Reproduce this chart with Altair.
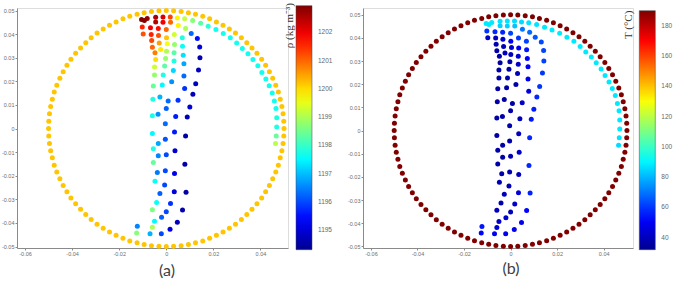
import altair as alt
import pandas as pd

# ---------------- data ----------------
# wall particles (ring of radius 0.05)
wall_x = [0.0500, 0.0499, 0.0496, 0.0491, 0.0484, 0.0476, 0.0465, 0.0452, 0.0438, 0.0422, 0.0405, 0.0385, 0.0364,
          0.0342, 0.0319, 0.0294, 0.0268, 0.0241, 0.0213, 0.0184, 0.0155, 0.0124, 0.0094, 0.0063, 0.0031,
          0.0000, -0.0031, -0.0063, -0.0094, -0.0124, -0.0155, -0.0184, -0.0213, -0.0241, -0.0268, -0.0294, -0.0319,
          -0.0342, -0.0364, -0.0385, -0.0405, -0.0422, -0.0438, -0.0452, -0.0465, -0.0476, -0.0484, -0.0491, -0.0496, -0.0499,
          -0.0500, -0.0499, -0.0496, -0.0491, -0.0484, -0.0476, -0.0465, -0.0452, -0.0438, -0.0422, -0.0405, -0.0385, -0.0364,
          -0.0342, -0.0319, -0.0294, -0.0268, -0.0241, -0.0213, -0.0184, -0.0155, -0.0124, -0.0094, -0.0063, -0.0031,
          0.0000, 0.0031, 0.0063, 0.0094, 0.0124, 0.0155, 0.0184, 0.0213, 0.0241, 0.0268, 0.0294, 0.0319,
          0.0342, 0.0364, 0.0385, 0.0405, 0.0422, 0.0438, 0.0452, 0.0465, 0.0476, 0.0484, 0.0491, 0.0496, 0.0499]
wall_y = [0.0000, 0.0031, 0.0063, 0.0094, 0.0124, 0.0155, 0.0184, 0.0213, 0.0241, 0.0268, 0.0294, 0.0319, 0.0342,
          0.0364, 0.0385, 0.0405, 0.0422, 0.0438, 0.0452, 0.0465, 0.0476, 0.0484, 0.0491, 0.0496, 0.0499,
          0.0500, 0.0499, 0.0496, 0.0491, 0.0484, 0.0476, 0.0465, 0.0452, 0.0438, 0.0422, 0.0405, 0.0385, 0.0364,
          0.0342, 0.0319, 0.0294, 0.0268, 0.0241, 0.0213, 0.0184, 0.0155, 0.0124, 0.0094, 0.0063, 0.0031,
          0.0000, -0.0031, -0.0063, -0.0094, -0.0124, -0.0155, -0.0184, -0.0213, -0.0241, -0.0268, -0.0294, -0.0319, -0.0342,
          -0.0364, -0.0385, -0.0405, -0.0422, -0.0438, -0.0452, -0.0465, -0.0476, -0.0484, -0.0491, -0.0496, -0.0499,
          -0.0500, -0.0499, -0.0496, -0.0491, -0.0484, -0.0476, -0.0465, -0.0452, -0.0438, -0.0422, -0.0405, -0.0385, -0.0364,
          -0.0342, -0.0319, -0.0294, -0.0268, -0.0241, -0.0213, -0.0184, -0.0155, -0.0124, -0.0094, -0.0063, -0.0031]
wall_rho = 1200.2   # kg m^-3
wall_T = 190.0      # deg C

# fluid particles
inner_x = [-0.0105, -0.0093, -0.0081, -0.0045, -0.0045, -0.0014, -0.0014, 0.0017, 0.0018,
           -0.0102, -0.0067, -0.0034, 0.0000,
           -0.0098, -0.0064, -0.0033, 0.0001,
           -0.0062, -0.0030, -0.0059, -0.0024, -0.0048, -0.0045, -0.0050, -0.0050, -0.0055, -0.0057,
           -0.0059, -0.0059, -0.0055, -0.0055, -0.0048, -0.0041, -0.0059, -0.0050, -0.0059,
           -0.0123, -0.0126, -0.0069, -0.0021,
           0.0047, 0.0078, 0.0112, 0.0146, 0.0178, 0.0211, 0.0242, 0.0272, 0.0299, 0.0323, 0.0347, 0.0368,
           0.0389, 0.0406, 0.0423, 0.0437, 0.0450, 0.0459, 0.0466, 0.0469, 0.0469, 0.0467, 0.0464,
           0.0051, 0.0082, 0.0106, 0.0132, 0.0142, 0.0143, 0.0137, 0.0125, 0.0113, 0.0100, 0.0089, 0.0082,
           0.0079, 0.0084, 0.0069, 0.0047,
           0.0034, 0.0068, 0.0004, 0.0035, 0.0069, 0.0001, 0.0033, 0.0072, -0.0003, 0.0033, 0.0075, -0.0007,
           0.0030, 0.0075, -0.0013, 0.0023, 0.0078, -0.0017, -0.0027, 0.0008, 0.0050, 0.0000, 0.0040, -0.0035,
           -0.0004, 0.0035, -0.0004, -0.0034, 0.0037, 0.0000, -0.0034, -0.0004, -0.0038, 0.0035, -0.0007,
           -0.0027, 0.0034, 0.0018, 0.0000, -0.0020, 0.0016]
inner_y = [0.0462, 0.0458, 0.0466, 0.0472, 0.0452, 0.0473, 0.0451, 0.0473, 0.0451,
           0.0430, 0.0427, 0.0424, 0.0420,
           0.0401, 0.0399, 0.0394, 0.0385,
           0.0373, 0.0363, 0.0345, 0.0335, 0.0321, 0.0293, 0.0261, 0.0227, 0.0180, 0.0124,
           0.0054, -0.0021, -0.0085, -0.0144, -0.0223, -0.0313, -0.0344, -0.0393, -0.0418,
           -0.0414, -0.0442, -0.0446, -0.0446,
           0.0469, 0.0465, 0.0458, 0.0446, 0.0434, 0.0420, 0.0403, 0.0385, 0.0363, 0.0339, 0.0317, 0.0293,
           0.0266, 0.0238, 0.0210, 0.0182, 0.0151, 0.0117, 0.0085, 0.0046, 0.0007, -0.0031, -0.0063,
           0.0437, 0.0424, 0.0403, 0.0382, 0.0346, 0.0300, 0.0248, 0.0190, 0.0145, 0.0092, 0.0049, -0.0031,
           -0.0151, -0.0270, -0.0345, -0.0397,
           0.0399, 0.0385, 0.0359, 0.0356, 0.0349, 0.0328, 0.0321, 0.0311, 0.0297, 0.0286, 0.0275, 0.0265,
           0.0246, 0.0223, 0.0227, 0.0199, 0.0170, 0.0185, 0.0134, 0.0117, 0.0120, 0.0085, 0.0051, 0.0061,
           0.0021, -0.0014, -0.0045, -0.0063, -0.0094, -0.0111, -0.0115, -0.0179, -0.0186, -0.0190, -0.0239,
           -0.0275, -0.0268, -0.0317, -0.0352, -0.0376, -0.0427]
inner_rho = [1202.9, 1202.9, 1202.8, 1202.6, 1202.5, 1202.2, 1202.0, 1201.3, 1201.0,
             1201.6, 1202.0, 1201.8, 1201.0,
             1201.2, 1201.6, 1201.2, 1200.2,
             1201.3, 1200.5, 1201.0, 1199.9, 1200.8, 1200.0, 1199.3, 1198.8, 1198.4, 1197.8,
             1197.7, 1197.5, 1197.8, 1198.4, 1197.6, 1197.6, 1198.6, 1197.5, 1199.0,
             1196.5, 1198.7, 1196.9, 1196.0,
             1199.8, 1199.2, 1198.7, 1198.3, 1197.9, 1197.7, 1197.7, 1197.7, 1197.7, 1197.7, 1197.7, 1197.7,
             1197.7, 1197.7, 1197.7, 1197.7, 1197.7, 1197.7, 1197.7, 1197.8, 1197.8, 1198.4, 1199.1,
             1199.8, 1199.0, 1196.3, 1195.5, 1195.0, 1194.6, 1194.8, 1194.8, 1194.7, 1195.0, 1194.7, 1194.5,
             1194.5, 1194.5, 1194.6, 1194.7,
             1199.3, 1197.8, 1199.6, 1198.8, 1197.6, 1199.0, 1198.3, 1197.3, 1198.8, 1197.8, 1196.8, 1198.3,
             1197.2, 1196.3, 1197.8, 1196.6, 1195.8, 1197.5, 1196.9, 1196.3, 1195.8, 1196.2, 1195.6, 1196.6,
             1196.3, 1195.6, 1196.1, 1196.8, 1194.9, 1196.0, 1196.5, 1196.0, 1196.4, 1195.2, 1196.0,
             1196.2, 1195.0, 1195.8, 1196.0, 1196.2, 1195.1]
inner_T = [88, 88, 88, 87, 84, 87, 84, 86, 82,
           60, 58, 57, 62,
           42, 40, 42, 50,
           38, 40, 36, 40, 36, 36, 36, 36, 36, 36,
           36, 36, 36, 37, 38, 38, 40, 42, 45,
           55, 52, 50, 48,
           86, 87, 87, 88, 88, 88, 88, 88, 88, 88, 88, 88,
           88, 88, 88, 88, 88, 88, 88, 88, 88, 87, 86,
           70, 68, 65, 63, 62, 62, 60, 60, 58, 56, 55, 58,
           58, 57, 52, 50,
           60, 62, 45, 50, 55, 40, 45, 52, 38, 42, 50, 36,
           40, 48, 36, 38, 45, 36, 36, 37, 42, 36, 40, 36,
           37, 40, 38, 36, 42, 38, 36, 38, 36, 40, 38,
           40, 46, 42, 40, 44, 48]

x_ticks = [-0.06, -0.04, -0.02, 0, 0.02, 0.04]
y_ticks = [-0.05, -0.04, -0.03, -0.02, -0.01, 0, 0.01, 0.02, 0.03, 0.04, 0.05]
rho_ticks = [1195, 1196, 1197, 1198, 1199, 1200, 1201, 1202]
T_ticks = [40, 60, 80, 100, 120, 140, 160, 180]

# ---------------- styling ----------------
JET = ["#00008F", "#0000FF", "#00FFFF", "#FFFF00", "#FF0000", "#800000"]
JET_POS = [0, 0.125, 0.375, 0.625, 0.875, 1]


def jet_domain(lo, hi):
    return [lo + p * (hi - lo) for p in JET_POS]


AX = dict(labelFontSize=5.5, labelColor="#6e6e6e", labelFont="Liberation Sans", tickSize=2,
          tickColor="#8a8a8a", domainColor="#8a8a8a", domainWidth=1, labelPadding=1, grid=False,
          title=None, format=".2~f", labelExpr="replace(datum.label, '\u2212', '-')")


def panel(values, xdom, ydom, cdom, cticks, w, h, legx, legy, glen,
          ctitle, tx, ty, plabel, px, py):
    df = pd.DataFrame({"x": wall_x + inner_x,
                       "y": wall_y + inner_y,
                       "v": values})
    pts = alt.Chart(df).mark_circle(size=25, opacity=1).encode(
        x=alt.X("x:Q", scale=alt.Scale(domain=xdom, nice=False, zero=False),
                axis=alt.Axis(values=x_ticks, **AX)),
        y=alt.Y("y:Q", scale=alt.Scale(domain=ydom, nice=False, zero=False),
                axis=alt.Axis(values=y_ticks, **AX)),
        color=alt.Color("v:Q",
                        scale=alt.Scale(domain=jet_domain(*cdom), range=JET, interpolate="rgb"),
                        legend=alt.Legend(orient="none", legendX=legx, legendY=legy,
                                          direction="vertical", gradientLength=glen,
                                          gradientThickness=16, title=None, values=cticks,
                                          format="d", labelFontSize=6.5, labelColor="#666666",
                                          labelFont="Liberation Sans", labelOffset=6,
                                          gradientStrokeColor="#444444", gradientStrokeWidth=0.5,
                                          labelOverlap=False)),
    )
    title = alt.Chart(pd.DataFrame({"t": [ctitle]})).mark_text(
        angle=270, align="right", baseline="middle", font="Liberation Serif",
        fontSize=11, color="#333333").encode(text="t:N", x=alt.value(tx), y=alt.value(ty))
    lab = alt.Chart(pd.DataFrame({"t": [plabel]})).mark_text(
        align="center", baseline="middle", font="Lato", fontSize=16,
        color="#404040").encode(text="t:N", x=alt.value(px), y=alt.value(py))
    return alt.layer(pts, title, lab).properties(width=w, height=h)


left = panel([wall_rho] * len(wall_x) + inner_rho,
             [-0.0634, 0.0517], [-0.0506, 0.0511], (1194.3, 1202.95), rho_ticks,
             271, 240, 279, -2.3, 244,
             "\u03c1 (kg m\u207b\u00b3)", 273, -5, "(a)", 150, 262.7)

right = panel([wall_T] * len(wall_x) + inner_T,
              [-0.0634, 0.0526], [-0.0507, 0.0529], (32, 190), T_ticks,
              270, 240, 276.3, 2.7, 239,
              "T (\u00b0C)", 265.6, 2.7, "(b)", 148, 260.7)

chart = alt.hconcat(left, right, spacing=75, bounds="flush").resolve_scale(
    color="independent"
).properties(
    padding={"left": 0, "top": 2, "right": 0, "bottom": 0}
).configure_view(stroke=None).configure(background="white")

chart.save("out.html", embed_options={"renderer": "svg", "actions": False})
